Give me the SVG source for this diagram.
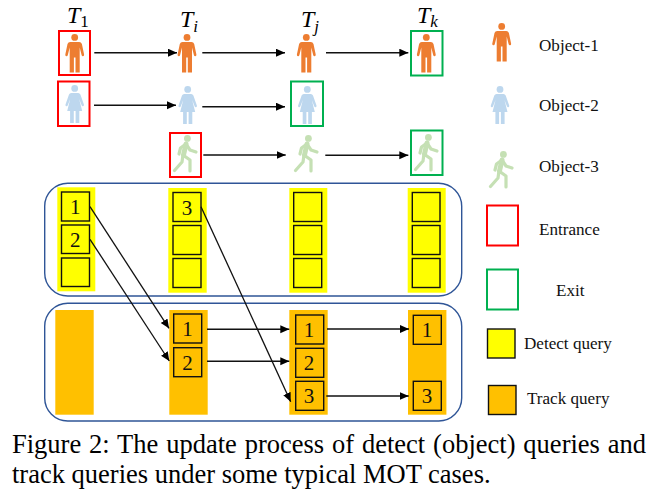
<svg xmlns="http://www.w3.org/2000/svg" width="656" height="504" viewBox="0 0 656 504">
<style>
text{font-family:"Liberation Serif","Times New Roman",serif;fill:#111}
.lg{font-size:17.1px}
.n{font-size:21px;text-anchor:middle}
.cap{font-size:26.5px;fill:#000}
.t{font-size:24px;font-style:italic;fill:#000}
.s{font-size:17px}
.s0{font-size:17px;font-style:normal}
.ent{fill:none;stroke:#f00;stroke-width:2}
.ext{fill:none;stroke:#00b050;stroke-width:2}
.panel{fill:#fff;stroke:#2f5597;stroke-width:1.4}
.dq{fill:#ff0;stroke:#111;stroke-width:1.4}
.tq{fill:#ffc000;stroke:#111;stroke-width:1.4}
.yb{fill:#ff0}
.ob{fill:#ffc000}
.c line{stroke:#111;stroke-width:1.5;marker-end:url(#ah)}
.c line.d{stroke-width:1.3}
</style>
<defs>
<marker id="ah" markerUnits="userSpaceOnUse" markerWidth="10" markerHeight="9" refX="9" refY="4" orient="auto"><path d="M0,0L9,4L0,8Z" fill="#000"/></marker>
<g id="man" fill="#ed7d31"><circle cx="0" cy="3.4" r="3.4"/><path d="M-4.5,8H4.5Q6.5,8 7.2,10L9.4,20.5Q9.6,22 8.3,22.3Q7.2,22.4 6.9,21L5,13.5V38.5H0.8V23.5H-0.8V38.5H-5V13.5L-6.9,21Q-7.2,22.4-8.3,22.3Q-9.6,22-9.4,20.5L-7.2,10Q-6.5,8-4.5,8Z"/></g>
<g id="woman" fill="#bdd7ee"><circle cx="0" cy="3.4" r="3.4"/><path d="M-3.5,8H3.5Q5,8 5.7,9.5L9.2,19.5Q9.5,21 8.3,21.3Q7.3,21.5 6.9,20.3L4.5,14L7.5,26H4.6V38H0.9V26H-0.9V38H-4.6V26H-7.5L-4.5,14L-6.9,20.3Q-7.3,21.5-8.3,21.3Q-9.5,21-9.2,19.5L-5.7,9.5Q-5,8-3.5,8Z"/></g>
<g id="runner"><circle cx="14.4" cy="3.4" r="3.4" fill="#c5e0b4"/><path d="M1.5,35.500L9,27L10,20L17,25V36M13,9L10.500,20M13,9L7.500,13L6,19M13,9L17,15L23,17" fill="none" stroke="#c5e0b4" stroke-width="3.200" stroke-linecap="round" stroke-linejoin="round"/><path d="M13,9L10.500,20" stroke="#c5e0b4" stroke-width="5" stroke-linecap="round"/></g>
</defs>

<g id="time-labels">
<text class="t" x="67" y="23">T<tspan class="s0" dx="0" dy="4">1</tspan></text>
<text class="t" x="180" y="27">T<tspan class="s" dx="0" dy="5">i</tspan></text>
<text class="t" x="301" y="27">T<tspan class="s" dx="0" dy="5">j</tspan></text>
<text class="t" x="417" y="23">T<tspan class="s" dx="0" dy="4">k</tspan></text>
</g>

<g id="object-1-track">
<use href="#man" x="74.7" y="34"/><use href="#man" x="187" y="34"/><use href="#man" x="306.3" y="34"/><use href="#man" x="426.3" y="34"/>
<rect class="ent" x="59" y="31" width="31" height="44"/>
<rect class="ext" x="411" y="31" width="31.5" height="44.5"/>
</g>
<g id="object-2-track">
<use href="#woman" x="74.7" y="85"/><use href="#woman" x="187.7" y="86"/><use href="#woman" x="307.3" y="86"/>
<rect class="ent" x="58" y="81.500" width="31.500" height="44.500"/>
<rect class="ext" x="291" y="81.500" width="32" height="44.500"/>
</g>
<g id="object-3-track">
<use href="#runner" x="173" y="135"/><use href="#runner" x="294" y="135"/><use href="#runner" x="414" y="134"/>
<rect class="ent" x="170" y="133" width="31" height="44"/>
<rect class="ext" x="411" y="130.500" width="31.500" height="44.500"/>
</g>

<g id="detect-panel">
<rect class="panel" x="44.700" y="183.300" width="417" height="112.700" rx="23"/>
<rect class="yb" x="57.300" y="187.300" width="38" height="104"/>
<rect class="yb" x="168.300" y="188" width="38.400" height="104.700"/>
<rect class="yb" x="289.300" y="188" width="38" height="104.700"/>
<rect class="yb" x="407.700" y="188" width="38" height="104.700"/>
<rect class="dq" x="61.500" y="192" width="28" height="29"/><rect class="dq" x="61.500" y="225" width="28" height="28.500"/><rect class="dq" x="61.500" y="258" width="28" height="28.500"/>
<rect class="dq" x="173" y="192.500" width="28" height="29"/><rect class="dq" x="173" y="225.500" width="28" height="29"/><rect class="dq" x="173" y="258.500" width="28" height="29"/>
<rect class="dq" x="293.700" y="192.500" width="28" height="29"/><rect class="dq" x="293.700" y="225.500" width="28" height="29"/><rect class="dq" x="293.700" y="258.500" width="28" height="29"/>
<rect class="dq" x="412.300" y="192.500" width="27.700" height="29"/><rect class="dq" x="412.300" y="225.500" width="27.700" height="29"/><rect class="dq" x="412.300" y="258.500" width="27.700" height="29"/>
<text class="n" x="75.300" y="214">1</text><text class="n" x="75.300" y="247">2</text><text class="n" x="187" y="215">3</text>
</g>

<g id="track-panel">
<rect class="panel" x="44.700" y="303.300" width="417" height="117.700" rx="23"/>
<rect class="ob" x="55.300" y="310" width="38.400" height="104.700"/>
<rect class="ob" x="169.300" y="310" width="38.400" height="104.700"/>
<rect class="ob" x="289.300" y="310" width="38.400" height="104.700"/>
<rect class="ob" x="408" y="310" width="38.400" height="104.700"/>
<rect class="tq" x="173.700" y="314" width="28" height="29"/><rect class="tq" x="173.700" y="347.700" width="28" height="29"/>
<rect class="tq" x="295.700" y="315" width="28" height="29"/><rect class="tq" x="295.700" y="348.300" width="28" height="29"/><rect class="tq" x="295.700" y="381.300" width="28" height="29"/>
<rect class="tq" x="413.300" y="315.300" width="28" height="29"/><rect class="tq" x="413.300" y="381.300" width="28" height="29"/>
<text class="n" x="187.500" y="336">1</text><text class="n" x="187.500" y="369.500">2</text>
<text class="n" x="309" y="337">1</text><text class="n" x="309" y="370">2</text><text class="n" x="309" y="403">3</text>
<text class="n" x="427" y="337">1</text><text class="n" x="427" y="403">3</text>
</g>

<g id="connectors" class="c">
<line x1="94.300" y1="52.700" x2="177" y2="52.700"/><line x1="202.300" y1="52.700" x2="285" y2="52.700"/><line x1="326" y1="52.700" x2="408.300" y2="52.700"/>
<line x1="94" y1="105.300" x2="176" y2="105.300"/><line x1="202.300" y1="106.700" x2="285" y2="106.700"/>
<line x1="203.300" y1="155" x2="285.700" y2="155"/><line x1="325.300" y1="155.300" x2="408.300" y2="155.300"/>
<line class="d" x1="90" y1="206.700" x2="169" y2="328.300"/><line class="d" x1="90" y1="239.300" x2="169.300" y2="361"/><line class="d" x1="201" y1="206.700" x2="290.700" y2="401.700"/>
<line x1="207" y1="329.300" x2="289.300" y2="329.300"/><line x1="207" y1="361.300" x2="289.300" y2="361.300"/>
<line x1="327" y1="329" x2="409" y2="329"/><line x1="326.300" y1="396" x2="408.700" y2="396"/>
</g>

<g id="legend-object-1"><use href="#man" x="501.700" y="23"/><text class="lg" x="539" y="51">Object-1</text></g>
<g id="legend-object-2"><use href="#woman" x="500" y="86"/><text class="lg" x="539" y="111">Object-2</text></g>
<g id="legend-object-3"><use href="#runner" x="489" y="151"/><text class="lg" x="539" y="172">Object-3</text></g>
<g id="legend-entrance"><rect class="ent" x="487" y="205.500" width="31" height="40"/><text class="lg" x="539" y="235">Entrance</text></g>
<g id="legend-exit"><rect class="ext" x="487" y="269.500" width="31" height="40"/><text class="lg" x="556" y="296">Exit</text></g>
<g id="legend-detect"><rect class="dq" x="487.500" y="329" width="27.500" height="29"/><text class="lg" x="524" y="349">Detect query</text></g>
<g id="legend-track"><rect class="tq" x="488.500" y="385.500" width="27.500" height="29"/><text class="lg" x="527" y="404">Track query</text></g>

<g id="caption">
<text class="cap" x="12" y="453" word-spacing="1.25">Figure 2: The update process of detect (object) queries and</text>
<text class="cap" x="12" y="483">track queries under some typical MOT cases.</text>
</g>
</svg>
